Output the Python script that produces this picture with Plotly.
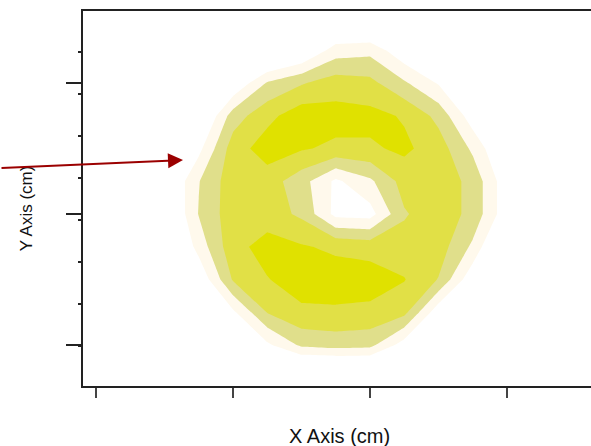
import plotly.graph_objects as go

# Sample grid (cm). Rows listed from top (largest y) to bottom.
grid_x = [0.5, 0.75, 1.0, 1.25, 1.5, 1.75, 2.0, 2.25, 2.5, 2.75, 3.0, 3.25]
grid_y_top_down = [3.5, 3.25, 3.0, 2.75, 2.5, 2.25, 2.0, 1.75, 1.5, 1.25, 1.0, 0.75]

# Measured intensity on the grid (top row first)
intensity_top_down = [
    [-2, -2, -2, -2, -1.6, -1.1, -1.2, -1.5, -2, -2, -2, -2],
    [-2, -2, -2, -1.2, -0.3, 1.5, 1.7, 0.2, -1.3, -2, -2, -2],
    [-2, -2, 0, 2.1, 2.9, 3.5, 3.3, 2.15, 0.9, -0.85, -2, -2],
    [-2, -0.6, 2.5, 3.7, 4.6, 4.4, 4.3, 3.9, 2.7, 0.4, -2, -2],
    [-2, 0.7, 3.5, 4.5, 4.1, 3.8, 3.85, 4.2, 3.5, 1.8, -0.4, -2],
    [-0.4, 1.95, 3.6, 3.5, 2.4, 0.8, 1.8, 3.4, 3.6, 2.7, 0.3, -2],
    [-0.6, 2.05, 3.6, 3.5, 2.8, 0.7, 0.6, 2.9, 3.6, 2.7, 0.3, -2],
    [-1.2, 1.4, 3.65, 4.4, 4.1, 3.8, 3.6, 3.4, 3.5, 1.8, -1.2, -2],
    [-2, 0.1, 3.1, 3.95, 4.5, 4.5, 4.5, 4.05, 2.95, 0.2, -2, -2],
    [-2, -1.6, 0.8, 3.05, 3.8, 3.85, 3.75, 3.3, 0.3, -2, -2, -2],
    [-2, -2, -0.5, 0.8, 2.2, 2.4, 2.3, 0.5, -1.5, -2, -2, -2],
    [-2, -2, -2, -1.8, -1.8, -1.8, -1.8, -1.8, -2, -2, -2, -2],
]

# Contour levels and band colours (below first level, then each band upward)
level_start, level_end, level_step = 1, 4, 1
band_colors = ["#FFFFFF", "#FFF9EC", "#E0DF8B", "#E1E046", "#E0E100"]

x_ticks = [0, 1, 2, 3]
y_ticks = [1, 2, 3]
x_range = [-0.095, 3.613]
y_range = [0.687, 3.55]

grid_y = grid_y_top_down[::-1]
intensity = intensity_top_down[::-1]

n = len(band_colors)
colorscale = [[i / (n - 1), c] for i, c in enumerate(band_colors)]

fig = go.Figure()
fig.add_trace(go.Contour(
    x=grid_x,
    y=grid_y,
    z=intensity,
    contours=dict(start=level_start, end=level_end, size=level_step,
                  coloring="fill", showlines=False),
    line=dict(width=0, smoothing=0),
    colorscale=colorscale,
    showscale=False,
    hoverinfo="skip",
))

axis_font = dict(family="Liberation Sans, Arial, sans-serif", color="#111111")

fig.update_xaxes(
    range=x_range, tickvals=x_ticks, showticklabels=False,
    ticks="outside", ticklen=10, tickwidth=1.5, tickcolor="#444444",
    showline=True, linewidth=2, linecolor="#222222", mirror=True,
    showgrid=False, zeroline=False,
)
fig.update_yaxes(
    range=y_range, tickvals=y_ticks, showticklabels=False,
    ticks="outside", ticklen=15, tickwidth=1.5, tickcolor="#222222",
    minor=dict(ticks="outside", ticklen=3, tickwidth=2, tickcolor="#222222",
               tick0=0.992, dtick=0.3206, showgrid=False),
    showline=True, linewidth=2, linecolor="#222222", mirror=False,
    showgrid=False, zeroline=False,
)

fig.update_layout(
    width=591, height=446,
    margin=dict(l=83, r=0, t=11, b=60),
    paper_bgcolor="white", plot_bgcolor="white",
    showlegend=False,
    annotations=[
        dict(text="X Axis (cm)", xref="paper", yref="paper", x=0.505, y=-0.133,
             xanchor="center", yanchor="middle", showarrow=False,
             font=dict(size=20, **axis_font)),
        dict(text="Y Axis (cm)", xref="paper", yref="paper", x=-0.111, y=0.473,
             xanchor="center", yanchor="middle", textangle=-90, showarrow=False,
             font=dict(size=17, **axis_font)),
        dict(text="", x=0.635, y=2.412, xref="x", yref="y",
             ax=-183, ay=8, showarrow=True, arrowhead=2, arrowsize=1.5,
             arrowwidth=2, arrowcolor="#9B0000"),
    ],
)

fig.write_html("out.html")
